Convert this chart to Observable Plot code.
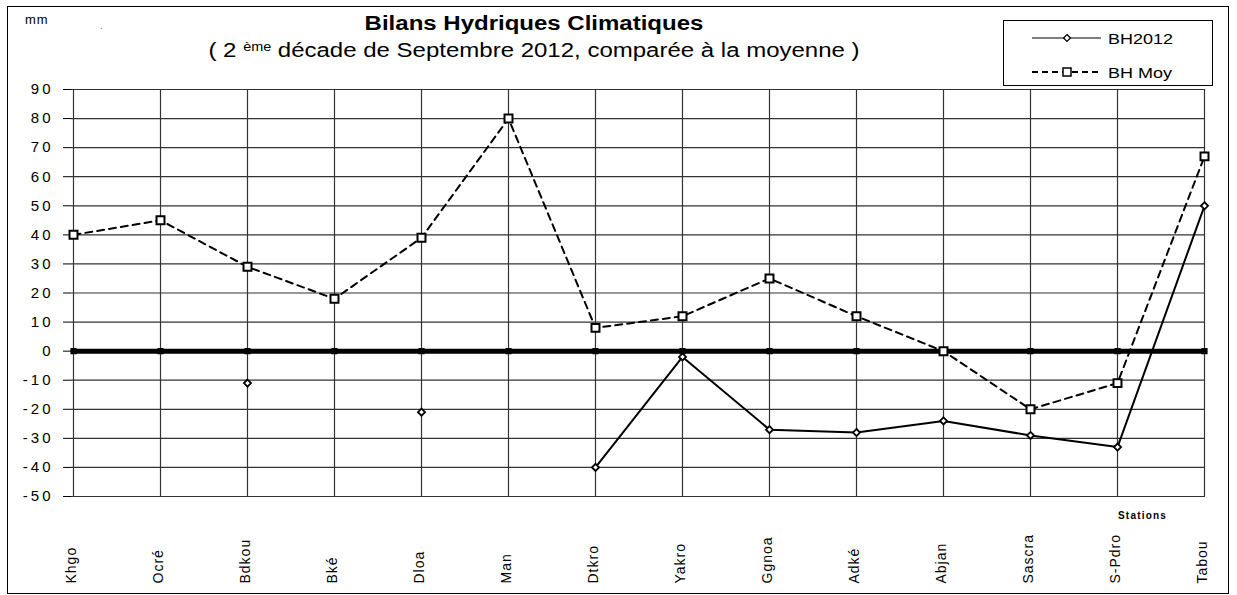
<!DOCTYPE html>
<html>
<head>
<meta charset="utf-8">
<script src="https://cdn.jsdelivr.net/npm/d3@7"></script>
<script src="https://cdn.jsdelivr.net/npm/@observablehq/plot@0.6"></script>
<style>
  body { margin: 0; background: #fff; }
  #wrap { position: relative; width: 1237px; height: 595px; overflow: hidden; background: #fff;
          font-family: "Liberation Sans", Arial, sans-serif; color: #000; }
  #chart { position: absolute; left: 0; top: 0; }
  #frame { position: absolute; left: 7px; top: 6px; width: 1222px; height: 588px; box-sizing: border-box;
           border: 1px solid #000; pointer-events: none; }
  .ttl { position: absolute; left: 0; width: 1068px; text-align: center; font-size: 20px; line-height: 20px;
         white-space: nowrap; transform: scaleX(1.2); transform-origin: 534px 0; }
  #title { top: 13px; font-weight: bold; }
  #subtitle { top: 40px; }
  #subtitle sup { font-size: 12px; position: relative; top: -3px; vertical-align: top; }
  #mm { position: absolute; left: 25px; top: 13px; font-size: 13px; line-height: 13px; letter-spacing: 1px; }
  #dot { position: absolute; left: 100px; top: 20px; font-size: 10px; color: #777; }
  #stations { position: absolute; left: 1118px; top: 510px; font-size: 10px; font-weight: bold; letter-spacing: 1.2px; }
  #legend { position: absolute; left: 1003px; top: 20px; width: 210px; height: 66px; box-sizing: border-box;
            border: 1px solid #000; background: #fff; }
  #chart svg g[aria-label="y-axis tick label"] text { letter-spacing: 3px; }
  #chart svg g[aria-label="text"] text { letter-spacing: 1px; }
</style>
</head>
<body>
<div id="wrap">
  <div id="chart"></div>
  <div id="frame"></div>
  <div id="mm">mm</div>
  <div id="dot">.</div>
  <div id="title" class="ttl">Bilans Hydriques Climatiques</div>
  <div id="subtitle" class="ttl">( 2 <sup>ème</sup> décade de Septembre 2012, comparée à la moyenne )</div>
  <div id="stations">Stations</div>
  <div id="legend"></div>
</div>
<script>
// ---- data ----
const stations = ["Khgo", "Ocré", "Bdkou", "Bké", "Dloa", "Man", "Dtkro", "Yakro", "Ggnoa", "Adké", "Abjan", "Sascra", "S-Pdro", "Tabou"];
const bh2012 = [null, null, -11, null, -21, null, -40, -2, -27, -28, -24, -29, -33, 50];
const bhMoy = [40, 45, 29, 18, 39, 80, 8, 12, 25, 12, 0, -20, -11, 67];
const zeroLine = [0, 0, 0, 0, 0, 0, 0, 0, 0, 0, 0, 0, 0, 0];
const yTicks = [-50, -40, -30, -20, -10, 0, 10, 20, 30, 40, 50, 60, 70, 80, 90];
const seriesNames = ["BH2012", "BH Moy"];

const rows = stations.map((s, i) => ({ station: s, bh2012: bh2012[i], bhMoy: bhMoy[i], zero: zeroLine[i] }));

const chart = Plot.plot({
  width: 1237,
  height: 595,
  marginLeft: 71,
  marginRight: 32,
  marginTop: 89,
  marginBottom: 99,
  style: { fontFamily: "Liberation Sans, Arial, sans-serif", fontSize: "15px", background: "transparent", color: "#000", overflow: "visible" },
  x: { type: "point", domain: stations, padding: 0, axis: null },
  y: { domain: [-50, 90], ticks: 14, tickSize: 8, tickPadding: 10, label: null, tickFormat: d => String(d) },
  marks: [
    Plot.ruleY(yTicks, { stroke: "#333", strokeWidth: 1.2 }),
    Plot.ruleX(stations, { x: d => d, stroke: "#333", strokeWidth: 1.2 }),
    Plot.line(rows, { x: "station", y: "zero", stroke: "#000", strokeWidth: 5 }),
    Plot.dot(rows, { x: "station", y: "zero", symbol: "square", r: 3.5, fill: "#000", stroke: "none" }),
    Plot.line(rows, { x: "station", y: "bhMoy", stroke: "#000", strokeWidth: 2, strokeDasharray: "7,5" }),
    Plot.line(rows, { x: "station", y: "bh2012", stroke: "#000", strokeWidth: 2 }),
    Plot.dot(rows, { x: "station", y: "bhMoy", symbol: "square", r: 4.5, fill: "#fff", stroke: "#000", strokeWidth: 2 }),
    Plot.dot(rows, { x: "station", y: "bh2012", symbol: "diamond2", r: 3.2, fill: "#fff", stroke: "#000", strokeWidth: 1.8 }),
    Plot.text(stations, { x: d => d, text: d => d, frameAnchor: "bottom", dy: 87, dx: -2, rotate: -90, textAnchor: "start", lineAnchor: "middle", fontSize: 14, fill: "#000" })
  ]
});
document.getElementById("chart").appendChild(chart);

// ---- legend ----
const lg = d3.select("#legend").append("svg").attr("width", 208).attr("height", 64)
  .style("position", "absolute").style("left", "0").style("top", "0");
const items = [
  { name: seriesNames[0], y: 17, dash: null, sym: "diamond" },
  { name: seriesNames[1], y: 51, dash: "6,4", sym: "square" }
];
items.forEach(it => {
  lg.append("line").attr("x1", 28).attr("x2", 97).attr("y1", it.y).attr("y2", it.y)
    .attr("stroke", "#000").attr("stroke-width", it.dash ? 2 : 1.2).attr("stroke-dasharray", it.dash);
  if (it.sym === "diamond") {
    lg.append("path").attr("d", d3.symbol(d3.symbolDiamond2, 30)()).attr("transform", `translate(63,${it.y})`)
      .attr("fill", "#fff").attr("stroke", "#000").attr("stroke-width", 1.3);
  } else {
    lg.append("rect").attr("x", 59).attr("y", it.y - 4).attr("width", 8).attr("height", 8)
      .attr("fill", "#fff").attr("stroke", "#000").attr("stroke-width", 1.5);
  }
  lg.append("text").attr("transform", `translate(104,${it.y + 5.5}) scale(1.2,1)`)
    .attr("font-family", "Liberation Sans, Arial, sans-serif").attr("font-size", 15).text(it.name);
});
</script>
</body>
</html>
